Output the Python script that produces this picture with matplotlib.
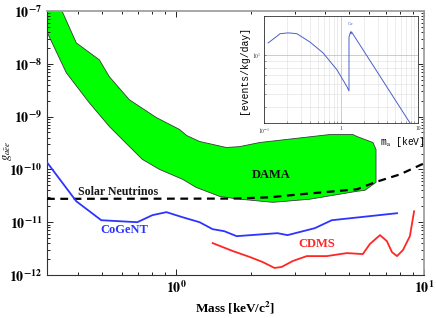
import numpy as np
import matplotlib
matplotlib.use("Agg")
import matplotlib.pyplot as plt
from matplotlib.ticker import FuncFormatter, LogLocator, NullFormatter, FixedLocator

plt.rcParams['mathtext.fontset'] = 'stix'
plt.rcParams['font.family'] = ['Liberation Serif', 'DejaVu Serif']

# ---------------- data ----------------
dama_upper_m = [0.30, 0.345, 0.394, 0.488, 0.536, 0.645, 0.830, 1.03, 1.10, 1.24, 1.59, 1.80, 2.17, 4.16, 5.16, 5.36, 6.22, 6.40, 6.40]
dama_upper_g = [1.0e-7, 1.0e-7, 2.49e-8, 1.19e-8, 5.68e-9, 2.09e-9, 9.57e-10, 5.69e-10, 4.38e-10, 3.38e-10, 2.60e-10, 2.70e-10, 3.23e-10, 4.57e-10, 4.57e-10, 4.2e-10, 3.23e-10, 2.38e-10, 5.69e-11]
dama_lower_m = [5.77, 5.36, 3.45, 2.45, 1.75, 1.49, 1.20, 1.06, 0.854, 0.728, 0.645, 0.536, 0.444, 0.359, 0.30]
dama_lower_g = [4.02e-11, 3.85e-11, 2.72e-11, 2.38e-11, 2.77e-11, 3.1e-11, 4.57e-11, 6.48e-11, 1.0e-10, 1.55e-10, 2.72e-10, 6.48e-10, 1.84e-9, 6.76e-9, 4.0e-8]

cogent_m = [0.30, 0.394, 0.497, 0.695, 0.80, 0.911, 1.06, 1.24, 1.40, 1.56, 1.75, 2.56, 2.81, 3.62, 4.24, 7.78]
cogent_g = [1.36e-10, 2.49e-11, 1.09e-11, 1.0e-11, 1.36e-11, 1.55e-11, 1.24e-11, 1.0e-11, 7.38e-12, 6.76e-12, 5.44e-12, 6.2e-12, 5.69e-12, 7.7e-12, 1.09e-11, 1.48e-11]

cdms_m = [1.40, 1.69, 1.98, 2.23, 2.49, 2.66, 2.95, 3.36, 4.05, 4.88, 5.66, 6.04, 6.64, 7.08, 7.42, 7.78, 8.22, 8.77, 9.12]
cdms_g = [4.02e-12, 2.84e-12, 2.19e-12, 1.76e-12, 1.36e-12, 1.42e-12, 1.84e-12, 2.28e-12, 2.28e-12, 2.60e-12, 2.49e-12, 3.85e-12, 5.69e-12, 4.38e-12, 2.72e-12, 2.28e-12, 2.96e-12, 5.44e-12, 1.61e-11]

solar_m = [0.30, 1.69, 2.38, 3.15, 5.36, 6.33, 8.0, 10.0]
solar_g = [2.77e-11, 2.8e-11, 2.96e-11, 3.37e-11, 4.2e-11, 5.7e-11, 8.05e-11, 1.3e-10]

inset_E = [0.113, 0.148, 0.161, 0.199, 0.218, 0.268, 0.396, 0.584, 0.887, 1.197, 1.27, 1.27, 1.31, 1.33, 1.35, 1.37, 7.87]
inset_R = [12.4, 14.0, 14.6, 14.8, 14.8, 14.6, 12.6, 10.4, 7.7, 5.7, 5.3, 13.8, 14.6, 15.1, 14.6, 15.1, 3.0]

# ---------------- figure ----------------
W, H = 436, 318
fig = plt.figure(figsize=(W / 100, H / 100), dpi=100)
ax = fig.add_axes([47 / W, 1 - 275 / H, 377 / W, 264 / H])
ax.set_xscale('log')
ax.set_yscale('log')
ax.set_xlim(0.3, 10)
ax.set_ylim(1e-12, 1e-7)

poly_m = dama_upper_m + dama_lower_m
poly_g = dama_upper_g + dama_lower_g
ax.fill(poly_m, poly_g, facecolor='#00ff00', edgecolor='#3a3a3a', linewidth=0.6, zorder=1)
ax.plot(solar_m, solar_g, color='black', linestyle=(0, (3.5, 2.5)), linewidth=1.6, zorder=3)
ax.plot(cogent_m, cogent_g, color='#2b35ff', linewidth=1.3, zorder=3)
ax.plot(cdms_m, cdms_g, color='#ff2626', linewidth=1.3, zorder=3)

ax.text(2.42, 7.7e-11, 'DAMA', fontsize=9, fontweight='bold', color='#101010', ha='center', va='center')
ax.text(0.582, 3.68e-11, 'Solar Neutrinos', fontsize=8.6, fontweight='bold', color='#1a1a1a', ha='center', va='center')
ax.text(0.616, 7.06e-12, 'CoGeNT', fontsize=9, fontweight='bold', color='#2b35ff', ha='center', va='center')
ax.text(3.69, 3.85e-12, 'CDMS', fontsize=9, fontweight='bold', color='#ff2626', ha='center', va='center')

fmt = FuncFormatter(lambda v, p: r'$\mathbf{10^{%d}}$' % int(round(np.log10(v))))
ax.xaxis.set_major_locator(FixedLocator([1, 10]))
ax.xaxis.set_major_formatter(fmt)
ax.xaxis.set_minor_locator(LogLocator(base=10, subs=np.arange(2, 10)))
ax.xaxis.set_minor_formatter(NullFormatter())
ax.yaxis.set_major_locator(LogLocator(base=10, numticks=10))
ax.yaxis.set_major_formatter(fmt)
ax.yaxis.set_minor_locator(LogLocator(base=10, subs=np.arange(2, 10), numticks=20))
ax.yaxis.set_minor_formatter(NullFormatter())
ax.tick_params(which='both', direction='in', top=True, right=True, color='#222222', labelsize=10, width=0.7)
ax.tick_params(which='major', length=4)
ax.tick_params(which='minor', length=2)
ax.tick_params(axis='x', pad=3)
for s in ['left', 'bottom']:
    ax.spines[s].set_color('#333333')
    ax.spines[s].set_linewidth(0.8)
for s in ['top', 'right']:
    ax.spines[s].set_color('#a0a0a0')
    ax.spines[s].set_linewidth(1.3)

ax.set_xlabel(r'Mass [keV/c$^\mathbf{2}$]', fontsize=9.5, fontweight='bold', va='center')
ax.xaxis.set_label_coords(0.5, -0.125)
ax.set_ylabel(r'$g_{a\bar{e}e}$', fontsize=9)
ax.yaxis.set_label_coords(-0.088, 0.47)

# ---------------- inset ----------------
ins = fig.add_axes([264 / W, 1 - 123 / H, 154 / W, 107 / H])
ins.set_xscale('log')
ins.set_yscale('log')
ins.set_xlim(0.1, 10)
ins.set_ylim(3, 20)
ins.plot(inset_E, inset_R, color='#4a5fc8', linewidth=0.7)
ins.text(1.35, 17.3, 'Ge', fontsize=3.5, color='#4a5fc8', ha='center', va='center')
ins.grid(True, which='major', color='#b8b8b8', linewidth=0.5)
ins.grid(True, which='minor', color='#dddddd', linewidth=0.4)
ins.xaxis.set_major_locator(FixedLocator([0.1, 1, 10]))
ins.xaxis.set_major_formatter(FuncFormatter(lambda v, p: {0.1: r'$10^{-1}$', 1: '1', 10: '10'}.get(round(v, 1), '')))
ins.xaxis.set_minor_locator(LogLocator(base=10, subs=np.arange(2, 10)))
ins.xaxis.set_minor_formatter(NullFormatter())
ins.yaxis.set_major_locator(FixedLocator([10]))
ins.yaxis.set_major_formatter(FuncFormatter(lambda v, p: r'$10^{1}$'))
ins.yaxis.set_minor_locator(LogLocator(base=10, subs=np.arange(2, 10)))
ins.yaxis.set_minor_formatter(NullFormatter())
ins.tick_params(which='both', direction='in', labelsize=4, length=1.5, width=0.4, color='#555555', labelcolor='#333333', pad=2)
for s in ins.spines.values():
    s.set_linewidth(0.6)
    s.set_color('#333333')
ins.set_ylabel('[events/kg/day]', fontsize=7, family=['Liberation Mono', 'DejaVu Sans Mono'])
ins.yaxis.set_label_coords(-0.1, 0.5)
fig.text(425 / W, 1 - 142 / H, r'm$_\mathrm{a}$ [keV]', fontsize=7, ha='right', va='center',
         family=['Liberation Mono', 'DejaVu Sans Mono'])

fig.savefig('out.png', dpi=100)
